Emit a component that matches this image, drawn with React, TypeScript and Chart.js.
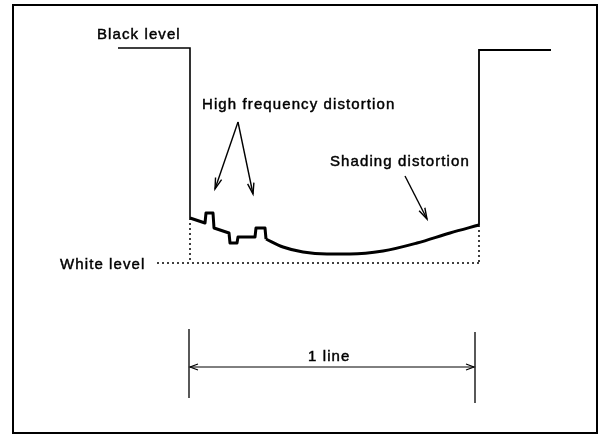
import React, { useEffect, useRef } from "react";
import Chart from "chart.js/auto";

// Diagram coordinate system: x = horizontal position, y = vertical position (down)
const blackLeft: [number, number][] = [[118, 48], [190, 48], [190, 218]];
const stepTrace: [number, number][] = [
  [190, 218], [205, 223], [206, 213], [213, 213], [214, 228], [229, 233],
  [230, 243], [237, 243], [238, 237], [255, 237], [256, 228], [265, 228], [266, 239],
];
const shadingTrace: [number, number][] = [
  [266, 239], [283, 247], [303, 252], [327, 254], [350, 254], [383, 251],
  [417, 243], [450, 233], [479, 225],
];
const blackRight: [number, number][] = [[479, 225], [479, 50], [551, 50]];
const whiteLevel: [number, number][] = [[157, 263], [479, 263]];
const dropLeft: [number, number][] = [[190, 218], [190, 263]];
const dropRight: [number, number][] = [[479, 225], [479, 263]];
const dimTickLeft: [number, number][] = [[189, 329], [189, 398]];
const dimTickRight: [number, number][] = [[475, 332], [475, 403]];
const dimLine: [number, number][] = [[190, 367], [474, 367]];

const labels = ["Black level", "High frequency distortion", "Shading distortion", "White level", "1 line"];
const labelPos: [number, number][] = [[97, 39], [202, 109], [330, 166], [60, 269], [308, 361]];

const arrowFrom: [number, number][] = [[238, 122], [238, 122], [405, 176]];
const arrowTo: [number, number][] = [[215, 189], [253, 194], [427, 219]];

const frameBox = [13, 5, 597, 433];

const toXY = (pts: [number, number][]) => pts.map(([x, y]) => ({ x, y }));

export default function App() {
  const ref = useRef<HTMLCanvasElement | null>(null);
  useEffect(() => {
    document.body.style.margin = "0";
    const canvas = ref.current!;
    const solid = (pts: [number, number][], w: number, extra: any = {}) => ({
      data: toXY(pts), showLine: true, borderColor: "#000", borderWidth: w,
      pointRadius: 0, tension: 0, fill: false, ...extra,
    });
    const dashed = (pts: [number, number][]) => solid(pts, 1.5, { borderDash: [2, 3] });

    const overlay = {
      id: "overlay",
      afterDatasetsDraw(chart: any) {
        const { ctx, scales } = chart;
        const X = (v: number) => scales.x.getPixelForValue(v);
        const Y = (v: number) => scales.y.getPixelForValue(v);
        ctx.save();
        // frame
        ctx.strokeStyle = "#000";
        ctx.lineWidth = 2;
        ctx.strokeRect(X(frameBox[0]), Y(frameBox[1]), X(frameBox[2]) - X(frameBox[0]), Y(frameBox[3]) - Y(frameBox[1]));
        // labels
        ctx.fillStyle = "#000";
        ctx.font = "15px 'Liberation Sans', Arial, sans-serif";
        try { (ctx as any).letterSpacing = "1.1px"; } catch (e) {}
        ctx.textBaseline = "alphabetic";
        ctx.textAlign = "left";
        ctx.lineWidth = 0.45;
        labels.forEach((t, i) => {
          ctx.fillText(t, X(labelPos[i][0]), Y(labelPos[i][1]));
          ctx.strokeText(t, X(labelPos[i][0]), Y(labelPos[i][1]));
        });
        try { (ctx as any).letterSpacing = "0px"; } catch (e) {}
        // pointer arrows
        ctx.lineWidth = 1.4;
        arrowFrom.forEach((f, i) => {
          const x0 = X(f[0]), y0 = Y(f[1]), x1 = X(arrowTo[i][0]), y1 = Y(arrowTo[i][1]);
          ctx.beginPath();
          ctx.moveTo(x0, y0);
          ctx.lineTo(x1, y1);
          ctx.stroke();
          const a = Math.atan2(y1 - y0, x1 - x0);
          const L = 11, H = 3.2;
          const bx = x1 - L * Math.cos(a), by = y1 - L * Math.sin(a);
          const nx = -Math.sin(a), ny = Math.cos(a);
          ctx.beginPath();
          ctx.moveTo(bx + nx * H, by + ny * H);
          ctx.lineTo(x1, y1);
          ctx.lineTo(bx - nx * H, by - ny * H);
          ctx.stroke();
        });
        // dimension arrowheads (open chevrons)
        ctx.lineWidth = 1.2;
        const dl = dimLine;
        const yy = Y(dl[0][1]);
        const xl = X(dl[0][0]), xr = X(dl[1][0]);
        ctx.beginPath();
        ctx.moveTo(xl + 8, yy - 3); ctx.lineTo(xl, yy); ctx.lineTo(xl + 8, yy + 3);
        ctx.moveTo(xr - 8, yy - 3); ctx.lineTo(xr, yy); ctx.lineTo(xr - 8, yy + 3);
        ctx.stroke();
        ctx.restore();
      },
    };

    const chart = new Chart(canvas, {
      type: "scatter",
      data: {
        datasets: [
          solid(blackLeft, 1.6),
          solid(stepTrace, 3, { borderJoinStyle: "round" }),
          solid(shadingTrace, 3, { cubicInterpolationMode: "monotone" }),
          solid(blackRight, 1.8),
          dashed(whiteLevel),
          dashed(dropLeft),
          dashed(dropRight),
          solid(dimTickLeft, 1.3),
          solid(dimTickRight, 1.3),
          solid(dimLine, 1),
        ] as any,
      },
      options: {
        animation: false,
        responsive: false,
        maintainAspectRatio: false,
        layout: { padding: 0 },
        plugins: { legend: { display: false }, tooltip: { enabled: false } },
        events: [],
        scales: {
          x: { type: "linear", min: 0, max: 600, display: false },
          y: { type: "linear", min: 0, max: 435, reverse: true, display: false },
        },
      },
      plugins: [overlay],
    });
    return () => chart.destroy();
  }, []);
  return <canvas ref={ref} width={600} height={435} style={{ display: "block", background: "#fff" }} />;
}
